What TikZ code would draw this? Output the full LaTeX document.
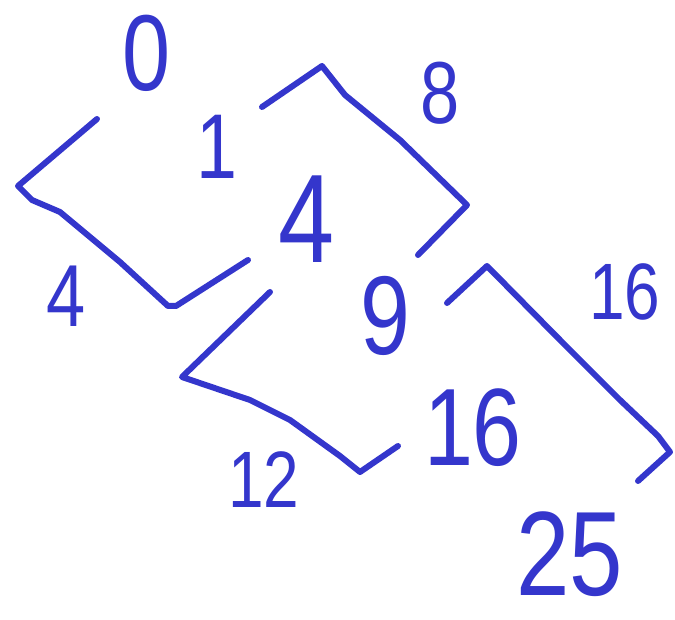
\documentclass[tikz,border=0pt]{standalone}
\usepackage{fontspec}
\setmainfont{Liberation Sans}
\definecolor{ink}{RGB}{52,54,204}
\tikzset{
  stroke/.style={draw=ink, line width=6pt, line cap=round, line join=round},
  num/.style={text=ink, inner sep=0pt, anchor=center, xscale=0.8},
}
\newcommand{\sz}[1]{\fontsize{#1}{#1}\selectfont}
\begin{document}
\begin{tikzpicture}[x=1pt,y=-1pt]
\useasboundingbox (0,0) rectangle (675,620);
% squares
\node[num] (n0)  at (147,53)  {\sz{108}0};
\node[num] (n1)  at (217,147) {\sz{92}1};
\node[num] (n4)  at (307,219) {\sz{126}4};
\node[num] (n9)  at (385,316) {\sz{112}9};
\node[num] (n16) at (473,428) {\sz{110}16};
\node[num] (n25) at (570,554) {\sz{120}25};
% differences
\node[num] (d4)  at (66,296)  {\sz{88}4};
\node[num] (d8)  at (440,93)  {\sz{88}8};
\node[num] (d12) at (264,480) {\sz{80}12};
\node[num] (d16) at (625,292) {\sz{80}16};
% brackets
\draw[stroke] (97,119) -- (18,186) -- (32,200) -- (60,212) -- (120,262) -- (168,306) -- (176,306) -- (248,260);
\draw[stroke] (262,107) -- (322,66) -- (345,95) -- (400,140) -- (467,205) -- (418,255);
\draw[stroke] (270,292) -- (182,377) -- (250,400) -- (290,420) -- (340,456) -- (360,472) -- (398,446);
\draw[stroke] (447,303) -- (487,266) -- (560,340) -- (620,400) -- (658,436) -- (670,452) -- (638,481);
\end{tikzpicture}
\end{document}
